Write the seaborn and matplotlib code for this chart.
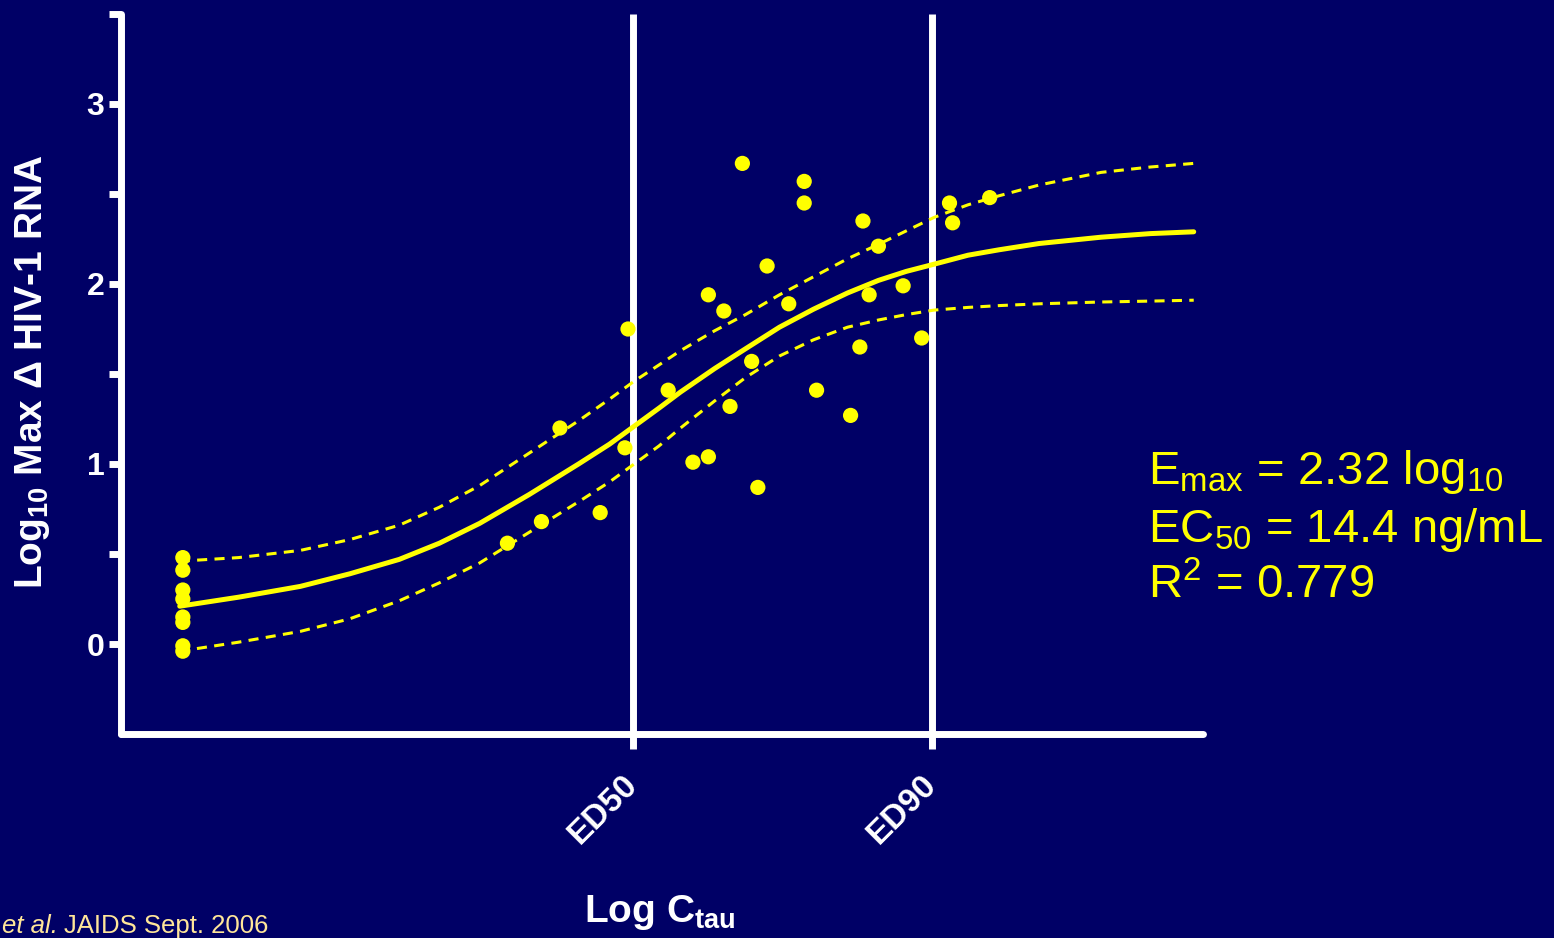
import pandas as pd
import matplotlib
matplotlib.use("Agg")
import matplotlib.pyplot as plt
import seaborn as sns
from matplotlib import font_manager

# --- data (x in log C units, y in log10 drop) ---
blq_x = [-0.30] * 8
blq_y = [0.48, 0.41, 0.30, 0.25, 0.15, 0.12, -0.01, -0.04]

obs_x = [0.75, 0.86, 0.92, 1.05, 1.13, 1.14, 1.27, 1.35, 1.40, 1.40,
         1.45, 1.47, 1.51, 1.54, 1.56, 1.59, 1.66, 1.71, 1.71, 1.75,
         1.86, 1.89, 1.90, 1.92, 1.95, 2.03, 2.09, 2.18, 2.19, 2.31]
obs_y = [0.56, 0.68, 1.20, 0.73, 1.09, 1.75, 1.41, 1.01, 1.04, 1.94,
         1.85, 1.32, 2.67, 1.57, 0.87, 2.10, 1.89, 2.57, 2.45, 1.41,
         1.27, 1.65, 2.35, 1.94, 2.21, 1.99, 1.70, 2.45, 2.34, 2.48]

# fitted Emax curve and its confidence band
curve_x = [-0.31, -0.12, 0.08, 0.24, 0.40, 0.53, 0.66, 0.82, 0.98, 1.08,
           1.16, 1.24, 1.31, 1.42, 1.52, 1.63, 1.74, 1.85, 1.95, 2.04,
           2.13, 2.24, 2.34, 2.47, 2.67, 2.83, 2.97]
fit_y = [0.21, 0.26, 0.32, 0.39, 0.47, 0.56, 0.67, 0.83, 1.00, 1.11,
         1.21, 1.31, 1.40, 1.53, 1.64, 1.76, 1.86, 1.95, 2.02, 2.07,
         2.11, 2.16, 2.19, 2.225, 2.26, 2.28, 2.29]
upper_y = [0.46, 0.48, 0.52, 0.58, 0.66, 0.76, 0.88, 1.06, 1.24, 1.36,
           1.46, 1.55, 1.63, 1.74, 1.83, 1.94, 2.04, 2.14, 2.22, 2.295,
           2.37, 2.44, 2.49, 2.55, 2.62, 2.65, 2.67]
lower_y = [-0.04, 0.01, 0.07, 0.14, 0.24, 0.34, 0.45, 0.62, 0.79, 0.90,
           1.00, 1.10, 1.20, 1.35, 1.48, 1.60, 1.69, 1.76, 1.80, 1.83,
           1.855, 1.87, 1.88, 1.89, 1.90, 1.905, 1.91]

ed_positions = [1.155, 2.123]
ed_labels = ["ED50", "ED90"]
y_major = [0, 1, 2, 3]
y_minor = [0.5, 1.5, 2.5, 3.5]

stats_lines = [r"E$_{max}$ = 2.32 log$_{10}$",
               r"EC$_{50}$ = 14.4 ng/mL",
               r"R$^{2}$ = 0.779"]

# --- styling ---
navy = "#000066"
yellow = "#FFFF00"
sns.set_style("ticks")
plt.rcParams.update({
    "font.family": ["Liberation Sans", "DejaVu Sans"],
    "mathtext.default": "regular",
    "figure.facecolor": navy,
    "axes.facecolor": navy,
    "savefig.facecolor": navy,
})

points = pd.DataFrame({"logC": blq_x + obs_x, "drop": blq_y + obs_y})
curves = pd.DataFrame({"logC": curve_x * 3,
                       "drop": fit_y + upper_y + lower_y,
                       "band": ["fit"] * len(curve_x) + ["upper"] * len(curve_x) + ["lower"] * len(curve_x)})

fig = plt.figure(figsize=(15.54, 9.38), dpi=100)
ax = fig.add_axes([121 / 1554, 1 - 734 / 938, (1203 - 121) / 1554, (734 - 14) / 938])

for x in ed_positions:
    ax.axvline(x, color="white", lw=5, zorder=3, solid_capstyle="butt")

sns.lineplot(data=curves[curves.band == "fit"], x="logC", y="drop", color=yellow,
             lw=3.6, sort=False, estimator=None, ax=ax, zorder=4)
for b in ["upper", "lower"]:
    sns.lineplot(data=curves[curves.band == b], x="logC", y="drop", color=yellow,
                 lw=2.2, sort=False, estimator=None, ax=ax, zorder=4,
                 linestyle=(0, (3.3, 2.4)))
sns.scatterplot(data=points, x="logC", y="drop", color=yellow, s=120,
                edgecolor="none", ax=ax, zorder=5)

ax.set_xlim(-0.5, 3.0)
ax.set_ylim(-0.5, 3.5)
sns.despine(ax=ax)
for side in ["left", "bottom"]:
    ax.spines[side].set_color("white")
    ax.spines[side].set_linewidth(5)
    ax.spines[side].set_capstyle("round")

ax.set_yticks(y_major)
ax.set_yticks(y_minor, minor=True)
ax.set_yticklabels([str(v) for v in y_major], fontsize=23, fontweight="bold", color="white")
ax.tick_params(axis="y", which="both", length=9, width=5, color="white", pad=3)
ax.set_xticks(ed_positions)
ax.set_xticklabels(ed_labels, fontsize=24, fontweight="bold", color="white",
                   rotation=45, ha="right", va="center", rotation_mode="anchor")
ax.tick_params(axis="x", length=11, width=5, color="white", pad=22)
ax.set_xlabel("")
ax.set_ylabel("")

# axis titles
fig.text(33 / 1554, 1 - 372 / 938, r"Log$_{10}$ Max Δ HIV-1 RNA", rotation=90,
         ha="center", va="center", fontsize=28, fontweight="bold", color="white")
fig.text(660 / 1554, 1 - 922 / 938, r"Log C$_{tau}$", ha="center", va="baseline",
         fontsize=28, fontweight="bold", color="white")

# fit statistics
for txt, base in zip(stats_lines, [484, 542, 598]):
    fig.text(1148 / 1554, 1 - base / 938, txt, ha="left", va="baseline",
             fontsize=34, color=yellow)

# citation at the bottom-left corner
names = {f.name for f in font_manager.fontManager.ttflist}
narrow = "Liberation Sans Narrow" in names
note_font = ["Liberation Sans Narrow", "Liberation Sans"] if narrow else ["Liberation Sans"]
note_size = 23 if narrow else 18.5
note_color = "#FFE699"
fig.text(2 / 1554, 1 - 933 / 938, "et al.", ha="left", va="baseline", style="italic",
         family=note_font, fontsize=note_size, color=note_color)
fig.text(64 / 1554, 1 - 933 / 938, "JAIDS Sept. 2006", ha="left", va="baseline",
         family=note_font, fontsize=note_size, color=note_color)

fig.savefig("out.png", dpi=100)
